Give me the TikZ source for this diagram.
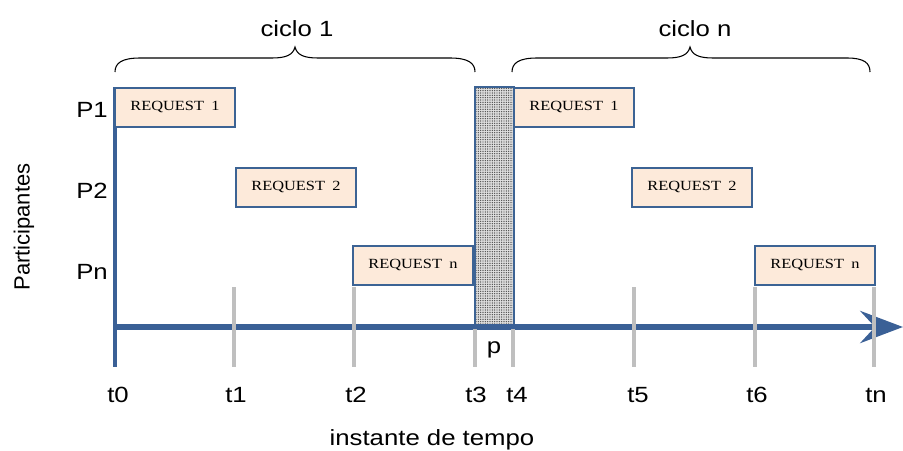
\documentclass[tikz,border=0pt]{standalone}
\usepackage{fontspec}
\usepackage{graphicx}
\setmainfont{Liberation Sans}
\newfontfamily\tmsfont{Liberation Serif}
\usetikzlibrary{arrows.meta,patterns.meta}
\newcommand\hx[1]{\scalebox{1.17}[1]{#1}}
\definecolor{axblue}{HTML}{3A6096}
\definecolor{bordblue}{HTML}{3C6394}
\definecolor{reqfill}{HTML}{FDEADA}
\definecolor{tickgray}{HTML}{BFBFBF}
\begin{document}
\begin{tikzpicture}[x=0.75pt,y=-0.75pt,
  reqbox/.style={draw=bordblue, line width=1.5pt, fill=reqfill, minimum width=90pt,
    minimum height=29.25pt, inner sep=0pt, font=\tmsfont\fontsize{10.5}{12}\selectfont},
  lbl/.style={font=\fontsize{16.5}{20}\selectfont, inner sep=0pt},
  axisline/.style={draw=axblue, line width=4.5pt},
  vaxis/.style={draw=axblue, line width=3pt},
  tickline/.style={draw=tickgray, line width=2.6pt},
  bracepath/.style={draw=black, line width=0.8pt}]
\useasboundingbox (0,0) rectangle (903,450);

% coordinates
\coordinate (vtop) at (115,87);
\coordinate (vbot) at (115,367);
\coordinate (o) at (115,327);
\coordinate (aend) at (903,327);

% vertical axis
\draw[vaxis] (vtop) -- (vbot);

% pause rectangle
\node[draw=bordblue, line width=1.5pt, minimum width=29.25pt, minimum height=180.75pt,
  inner sep=0pt, preaction={fill=gray!25},
  pattern={Dots[distance=1.75pt,radius=0.55pt]}, pattern color=black!70] (pause) at (494.5,207.5) {};

% horizontal axis
\draw[axisline, -{Stealth[length=32pt,width=24pt,inset=11pt]}] (o) -- (aend);

% request boxes
\node[reqbox] (r1a) at (175,107) {\hx{REQUEST\hspace{0.45em}1}};
\node[reqbox] (r2a) at (296,187) {\hx{REQUEST\hspace{0.45em}2}};
\node[reqbox] (rna) at (413,265) {\hx{REQUEST\hspace{0.45em}n}};
\node[reqbox] (r1b) at (574,107) {\hx{REQUEST\hspace{0.45em}1}};
\node[reqbox] (r2b) at (692,187) {\hx{REQUEST\hspace{0.45em}2}};
\node[reqbox] (rnb) at (815,265) {\hx{REQUEST\hspace{0.45em}n}};

% ticks
\foreach \n/\x/\t in {1/234/287, 2/354/287, 3/475/329, 4/513/329, 5/634/287, 6/755/287, 7/874/287}{
  \coordinate (tt\n) at (\x,\t);
  \coordinate (tb\n) at (\x,367);
  \draw[tickline] (tt\n) -- (tb\n);
}

% time labels
\node[lbl, anchor=base] (l0) at (118,402) {\hx{t0}};
\node[lbl, anchor=base] (l1) at (236,402) {\hx{t1}};
\node[lbl, anchor=base] (l2) at (356,402) {\hx{t2}};
\node[lbl, anchor=base] (l3) at (476,402) {\hx{t3}};
\node[lbl, anchor=base] (l4) at (517,402) {\hx{t4}};
\node[lbl, anchor=base] (l5) at (638,402) {\hx{t5}};
\node[lbl, anchor=base] (l6) at (757,402) {\hx{t6}};
\node[lbl, anchor=base] (ln) at (876,402) {\hx{tn}};
\node[lbl, anchor=base] (pl) at (494,353) {\hx{p}};
\node[lbl, anchor=base] (xlab) at (432,445) {\hx{instante de tempo}};

% participants
\node[lbl, anchor=base east] (p1) at (108,117) {\hx{P1}};
\node[lbl, anchor=base east] (p2) at (108,198) {\hx{P2}};
\node[lbl, anchor=base east] (pn) at (108,279) {\hx{Pn}};
\node[lbl, rotate=90] (ylab) at (24,227) {Participantes};

% braces
\draw[bracepath] (115,72) .. controls (115,63) and (122,58) .. (140,58) -- (272,58)
  .. controls (286,58) and (293,55) .. (295,47)
  .. controls (297,55) and (304,58) .. (318,58) -- (450,58)
  .. controls (468,58) and (475,63) .. (475,72);
\draw[bracepath] (512,72) .. controls (512,63) and (519,58) .. (537,58) -- (667,58)
  .. controls (681,58) and (688,55) .. (690,47)
  .. controls (692,55) and (699,58) .. (713,58) -- (847,58)
  .. controls (864,58) and (870,63) .. (870,72);
\node[lbl, anchor=base] (c1) at (297,36) {\hx{ciclo 1}};
\node[lbl, anchor=base] (cn) at (695,36) {\hx{ciclo n}};
\end{tikzpicture}
\end{document}
